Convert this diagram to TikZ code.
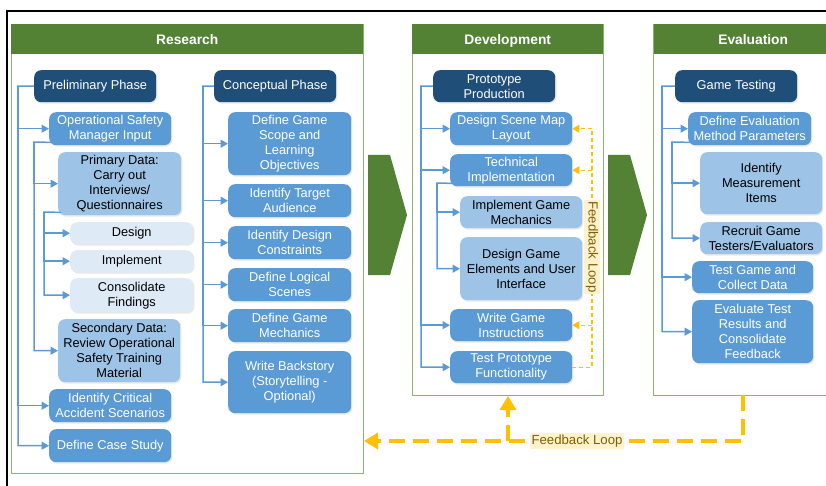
\documentclass[tikz,border=0pt]{standalone}
\usepackage{fontspec}
\setmainfont{Liberation Sans}
\usepackage{tikz}
\usetikzlibrary{arrows.meta,shadows,positioning}
\tikzset{>=latex}

\definecolor{hgreen}{HTML}{548235}
\definecolor{pgreen}{HTML}{8DB36F}
\definecolor{navy}{HTML}{1F4E79}
\definecolor{midblue}{HTML}{5B9BD5}
\definecolor{lightblue}{HTML}{9DC3E6}
\definecolor{paleblue}{HTML}{DEEBF7}
\definecolor{gold}{HTML}{FFC000}
\definecolor{fbbg}{HTML}{FFF2CC}
\definecolor{fbtext}{HTML}{7F6000}

\tikzset{
  box/.style={rounded corners=7pt, minimum width=122pt, minimum height=33pt, inner sep=1pt,
    align=center, anchor=north west, font=\fontsize{12.8}{15}\selectfont,
    drop shadow={shadow xshift=1.2pt, shadow yshift=-1.5pt, opacity=0.18}},
  phase/.style={box, fill=navy, text=white, minimum height=32pt},
  task/.style={box, fill=midblue, text=white},
  sub/.style={box, fill=lightblue, text=black},
  subsub/.style={box, fill=paleblue, text=black, minimum height=22pt},
  tall/.style={minimum height=63pt},
  panel/.style={draw=pgreen, line width=1pt, fill=white, anchor=north west, inner sep=0pt},
  head/.style={fill=hgreen, text=white, anchor=north west, minimum height=30pt, inner sep=0pt,
    text height=11pt, text depth=1pt, font=\fontsize{13.8}{16}\selectfont\bfseries},
  link/.style={draw=midblue, line width=1.5pt},
  arr/.style={link, -{Triangle[length=7.5pt,width=8pt]}},
  fb/.style={draw=gold, line width=1.3pt, dash pattern=on 4pt off 3pt},
  fbarr/.style={fb, -{Triangle[length=7pt,width=8pt]}},
  bigfb/.style={draw=gold, line width=4.5pt, dash pattern=on 16pt off 8pt},
  bigarr/.style={bigfb, -{Triangle[length=14pt,width=16pt]}},
  fblabel/.style={fill=fbbg, text=fbtext, inner sep=1.5pt, font=\fontsize{13.2}{15}\selectfont},
}

\begin{document}
\begin{tikzpicture}[x=1pt,y=-1pt]
\useasboundingbox (0,0) rectangle (826,486);
\clip (0,0) rectangle (826,486);
\fill[white] (0,0) rectangle (826,486);
\draw[line width=1.8pt] (7,500) -- (7,11) -- (840,11);

% panels
\node[panel, minimum width=352pt, minimum height=449pt] (respan) at (11,24) {};
\node[head, minimum width=352pt] (reshead) at (respan.north west) {Research};
\node[panel, minimum width=191pt, minimum height=371pt] (devpan) at (412,24) {};
\node[head, minimum width=191pt] (devhead) at (devpan.north west) {Development};
\node[panel, minimum width=200pt, minimum height=371pt] (evpan) at (653,24) {};
\node[head, minimum width=200pt] (evhead) at (evpan.north west) {Evaluation};
\draw[pgreen, line width=1pt] (evpan.north west) -- (evpan.south west);

% chevrons
\fill[hgreen] (368,155) -- (390,155) -- (407,215) -- (390,275) -- (368,275) -- cycle;
\fill[hgreen] (608,155) -- (630,155) -- (647,215) -- (630,275) -- (608,275) -- cycle;

% research
\node[phase] (prelim) at (34,70) {Preliminary Phase};
\node[task] (osm) at (49,112) {Operational Safety\\Manager Input};
\node[sub, tall, minimum width=123pt] (prim) at (58,152) {Primary Data:\\Carry out\\Interviews/\\Questionnaires};
\node[subsub, minimum width=123pt] (design) at (70,222) {Design};
\node[subsub, minimum width=123pt] (impl) at (70,250) {Implement};
\node[subsub, minimum width=123pt, minimum height=34pt] (cons) at (70,278) {Consolidate\\Findings};
\node[sub, tall] (secd) at (58,319) {Secondary Data:\\Review Operational\\Safety Training\\Material};
\node[task] (icas) at (49,389) {Identify Critical\\Accident Scenarios};
\node[task] (dcs) at (49,429) {Define Case Study};

\node[phase] (concept) at (214,70) {Conceptual Phase};
\node[task, tall, minimum width=123pt] (scope) at (228,112) {Define Game\\Scope and\\Learning\\Objectives};
\node[task, minimum width=123pt] (audience) at (228,184) {Identify Target\\Audience};
\node[task, minimum width=123pt] (constr) at (228,226) {Identify Design\\Constraints};
\node[task, minimum width=123pt] (scenes) at (228,268) {Define Logical\\Scenes};
\node[task, minimum width=123pt] (mech) at (228,309) {Define Game\\Mechanics};
\node[task, tall, minimum width=123pt, minimum height=62pt] (story) at (228,351) {Write Backstory\\(Storytelling -\\Optional)};

% development
\node[phase] (proto) at (433,70) {Prototype\\Production};
\node[task] (dsm) at (450,112) {Design Scene Map\\Layout};
\node[task, minimum height=32pt] (tech) at (450,154) {Technical\\Implementation};
\node[sub, minimum height=32pt] (igm) at (460,196) {Implement Game\\Mechanics};
\node[sub, tall] (dge) at (460,237) {Design Game\\Elements and User\\Interface};
\node[task, minimum height=32pt] (wgi) at (450,309) {Write Game\\Instructions};
\node[task, minimum height=32pt] (tpf) at (450,351) {Test Prototype\\Functionality};

% evaluation
\node[phase] (gt) at (675,70) {Game Testing};
\node[task, minimum width=123pt] (demp) at (688,112) {Define Evaluation\\Method Parameters};
\node[sub, tall, minimum height=62pt] (imi) at (700,152) {Identify\\Measurement\\Items};
\node[sub, minimum height=32pt] (rgt) at (700,222) {Recruit Game\\Testers/Evaluators};
\node[task, minimum width=121pt, minimum height=32pt] (tgc) at (692,261) {Test Game and\\Collect Data};
\node[task, tall, minimum width=121pt] (etr) at (692,300) {Evaluate Test\\Results and\\Consolidate\\Feedback};

% trunks
\coordinate (t1) at (18,86);
\coordinate (t2) at (34,142);
\coordinate (t3) at (44,212);
\coordinate (t4) at (203,86);
\coordinate (t5) at (421,86);
\coordinate (t6) at (437,183);
\coordinate (t7) at (662,86);
\coordinate (t8) at (672,142);

\draw[arr] (prelim.west) -- (t1) |- (dcs.west);
\draw[arr] (t1) |- (osm.west);
\draw[arr] (t1) |- (icas.west);
\draw[arr] ([xshift=3pt,yshift=3pt]osm.south west) -- (t2) |- (secd.west);
\draw[arr] (t2) |- (prim.west);
\draw[arr] ([xshift=3pt,yshift=3pt]prim.south west) -- (t3) |- (cons.west);
\draw[arr] (t3) |- (design.west);
\draw[arr] (t3) |- (impl.west);

\draw[arr] (concept.west) -- (t4) |- (story.west);
\foreach \n in {scope,audience,constr,scenes,mech}
  \draw[arr] (t4) |- (\n.west);

\draw[arr] (proto.west) -- (t5) |- (tpf.west);
\foreach \n in {dsm,tech,wgi}
  \draw[arr] (t5) |- (\n.west);
\draw[arr] ([xshift=3pt,yshift=3pt]tech.south west) -- (t6) |- (dge.west);
\draw[arr] (t6) |- (igm.west);

\draw[arr] (gt.west) -- (t7) |- (etr.west);
\foreach \n in {demp,tgc}
  \draw[arr] (t7) |- (\n.west);
\draw[arr] ([xshift=3pt,yshift=3pt]demp.south west) -- (t8) |- (rgt.west);
\draw[arr] (t8) |- (imi.west);

% feedback inside development
\coordinate (fbtop) at (592,128);
\draw[fb] (tpf.east) -| (fbtop);
\foreach \n in {dsm,tech,wgi}
  \draw[fbarr] (fbtop |- \n.east) -- (\n.east);
\node[fblabel, rotate=-90] (fbside) at (592,247) {Feedback Loop};

% outer feedback loop
\coordinate (fbstart) at (743,395);
\coordinate (fbend) at (364,441);
\draw[bigarr] (fbstart) |- (fbend);
\draw[bigarr] (devpan.south |- fbend) -- (devpan.south);
\node[fblabel] (fbbottom) at (577,441) {Feedback Loop};
\end{tikzpicture}
\end{document}
